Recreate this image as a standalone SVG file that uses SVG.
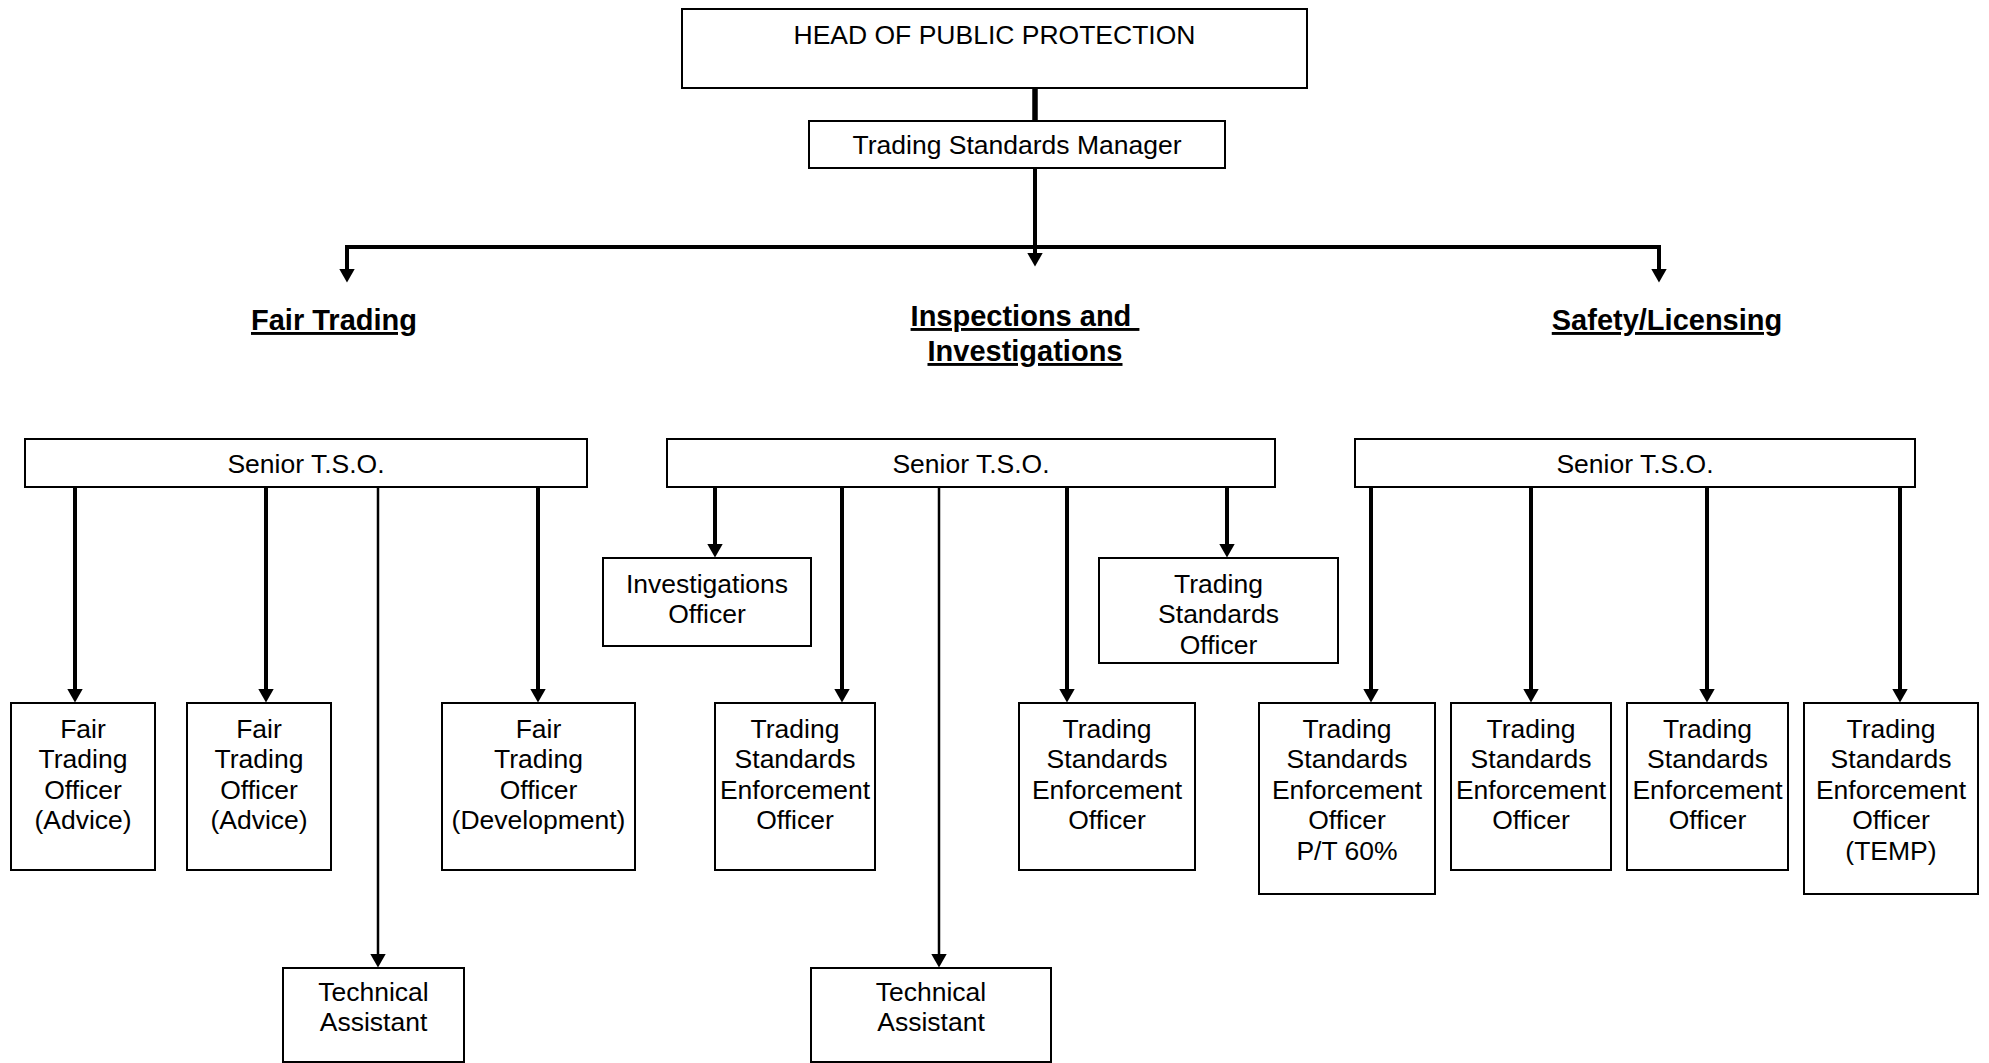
<svg xmlns="http://www.w3.org/2000/svg" width="1989" height="1063" viewBox="0 0 1989 1063">
  <style>
    .box { fill: #ffffff; stroke: #000000; stroke-width: 2; }
    .lbl { font-family: "Liberation Sans", Arial, Helvetica, sans-serif; font-size: 26.5px; fill: #000000; text-anchor: middle; }
    .head { font-family: "Liberation Sans", Arial, Helvetica, sans-serif; font-size: 29px; font-weight: bold; fill: #000000; text-anchor: middle; text-decoration: underline; }
    .thick { fill: none; stroke: #000000; stroke-width: 4; stroke-linejoin: miter; }
    .thin { fill: none; stroke: #000000; stroke-width: 2.5; }
    .arr { marker-end: url(#tip); }
  </style>
  <defs>
    <marker id="tip" markerUnits="userSpaceOnUse" markerWidth="14" markerHeight="16" viewBox="0 0 14 16" refX="0.5" refY="8" orient="auto">
      <path d="M0,0 L14,8 L0,16 Z" fill="#000000"/>
    </marker>
  </defs>
  <rect width="1989" height="1063" fill="#ffffff"/>

  <!-- reporting lines -->
  <g id="connectors">
    <line x1="1035" y1="88" x2="1035" y2="121" stroke="#000000" stroke-width="5.5"/>
    <line class="thick arr" x1="1035" y1="168" x2="1035" y2="253"/>
    <path class="thick arr" d="M1035,247 H347 V269"/>
    <path class="thick arr" d="M1035,247 H1659 V269"/>

    <!-- Fair Trading -->
    <line class="thick arr" x1="75" y1="487" x2="75" y2="689"/>
    <line class="thick arr" x1="266" y1="487" x2="266" y2="689"/>
    <line class="thin arr" x1="378" y1="487" x2="378" y2="954"/>
    <line class="thick arr" x1="538" y1="487" x2="538" y2="689"/>

    <!-- Inspections and Investigations -->
    <line class="thick arr" x1="715" y1="487" x2="715" y2="544"/>
    <line class="thick arr" x1="842" y1="487" x2="842" y2="689"/>
    <line class="thin arr" x1="939" y1="487" x2="939" y2="954"/>
    <line class="thick arr" x1="1067" y1="487" x2="1067" y2="689"/>
    <line class="thick arr" x1="1227" y1="487" x2="1227" y2="544"/>

    <!-- Safety/Licensing -->
    <line class="thick arr" x1="1371" y1="487" x2="1371" y2="689"/>
    <line class="thick arr" x1="1531" y1="487" x2="1531" y2="689"/>
    <line class="thick arr" x1="1707" y1="487" x2="1707" y2="689"/>
    <line class="thick arr" x1="1900" y1="487" x2="1900" y2="689"/>
  </g>

  <g id="head-of-public-protection">
    <rect class="box" x="682" y="9" width="625" height="79"/>
    <text class="lbl" x="994.5" y="44">HEAD OF PUBLIC PROTECTION</text>
  </g>
  <g id="trading-standards-manager">
    <rect class="box" x="809" y="121" width="416" height="47"/>
    <text class="lbl" x="1017" y="154">Trading Standards Manager</text>
  </g>

  <!-- section headings -->
  <g id="heading-fair-trading">
    <text class="head" x="334" y="330">Fair Trading</text>
  </g>
  <g id="heading-inspections">
    <text class="head" x="1025" y="326" xml:space="preserve">Inspections and </text>
    <text class="head" x="1025" y="361">Investigations</text>
  </g>
  <g id="heading-safety-licensing">
    <text class="head" x="1667" y="330">Safety/Licensing</text>
  </g>

  <!-- senior officers -->
  <g id="senior-tso-fair-trading">
    <rect class="box" x="25" y="439" width="562" height="48"/>
    <text class="lbl" x="306" y="473">Senior T.S.O.</text>
  </g>
  <g id="senior-tso-inspections">
    <rect class="box" x="667" y="439" width="608" height="48"/>
    <text class="lbl" x="971" y="473">Senior T.S.O.</text>
  </g>
  <g id="senior-tso-safety">
    <rect class="box" x="1355" y="439" width="560" height="48"/>
    <text class="lbl" x="1635" y="473">Senior T.S.O.</text>
  </g>

  <!-- Fair Trading team -->
  <g id="fto-advice-1">
    <rect class="box" x="11" y="703" width="144" height="167"/>
    <text class="lbl" x="83" y="738">Fair<tspan x="83" dy="30.4">Trading</tspan><tspan x="83" dy="30.4">Officer</tspan><tspan x="83" dy="30.4">(Advice)</tspan></text>
  </g>
  <g id="fto-advice-2">
    <rect class="box" x="187" y="703" width="144" height="167"/>
    <text class="lbl" x="259" y="738">Fair<tspan x="259" dy="30.4">Trading</tspan><tspan x="259" dy="30.4">Officer</tspan><tspan x="259" dy="30.4">(Advice)</tspan></text>
  </g>
  <g id="fto-development">
    <rect class="box" x="442" y="703" width="193" height="167"/>
    <text class="lbl" x="538.5" y="738">Fair<tspan x="538.5" dy="30.4">Trading</tspan><tspan x="538.5" dy="30.4">Officer</tspan><tspan x="538.5" dy="30.4">(Development)</tspan></text>
  </g>
  <g id="technical-assistant-fair-trading">
    <rect class="box" x="283" y="968" width="181" height="94"/>
    <text class="lbl" x="373.5" y="1001">Technical<tspan x="373.5" dy="30.4">Assistant</tspan></text>
  </g>

  <!-- Inspections and Investigations team -->
  <g id="investigations-officer">
    <rect class="box" x="603" y="558" width="208" height="88"/>
    <text class="lbl" x="707" y="593">Investigations<tspan x="707" dy="30.4">Officer</tspan></text>
  </g>
  <g id="tseo-inspections-1">
    <rect class="box" x="715" y="703" width="160" height="167"/>
    <text class="lbl" x="795" y="738">Trading<tspan x="795" dy="30.4">Standards</tspan><tspan x="795" dy="30.4">Enforcement</tspan><tspan x="795" dy="30.4">Officer</tspan></text>
  </g>
  <g id="technical-assistant-inspections">
    <rect class="box" x="811" y="968" width="240" height="94"/>
    <text class="lbl" x="931" y="1001">Technical<tspan x="931" dy="30.4">Assistant</tspan></text>
  </g>
  <g id="tseo-inspections-2">
    <rect class="box" x="1019" y="703" width="176" height="167"/>
    <text class="lbl" x="1107" y="738">Trading<tspan x="1107" dy="30.4">Standards</tspan><tspan x="1107" dy="30.4">Enforcement</tspan><tspan x="1107" dy="30.4">Officer</tspan></text>
  </g>
  <g id="trading-standards-officer">
    <rect class="box" x="1099" y="558" width="239" height="105"/>
    <text class="lbl" x="1218.5" y="593">Trading<tspan x="1218.5" dy="30.4">Standards</tspan><tspan x="1218.5" dy="30.4">Officer</tspan></text>
  </g>

  <!-- Safety/Licensing team -->
  <g id="tseo-part-time">
    <rect class="box" x="1259" y="703" width="176" height="191"/>
    <text class="lbl" x="1347" y="738">Trading<tspan x="1347" dy="30.4">Standards</tspan><tspan x="1347" dy="30.4">Enforcement</tspan><tspan x="1347" dy="30.4">Officer</tspan><tspan x="1347" dy="30.4">P/T 60%</tspan></text>
  </g>
  <g id="tseo-safety-1">
    <rect class="box" x="1451" y="703" width="160" height="167"/>
    <text class="lbl" x="1531" y="738">Trading<tspan x="1531" dy="30.4">Standards</tspan><tspan x="1531" dy="30.4">Enforcement</tspan><tspan x="1531" dy="30.4">Officer</tspan></text>
  </g>
  <g id="tseo-safety-2">
    <rect class="box" x="1627" y="703" width="161" height="167"/>
    <text class="lbl" x="1707.5" y="738">Trading<tspan x="1707.5" dy="30.4">Standards</tspan><tspan x="1707.5" dy="30.4">Enforcement</tspan><tspan x="1707.5" dy="30.4">Officer</tspan></text>
  </g>
  <g id="tseo-temp">
    <rect class="box" x="1804" y="703" width="174" height="191"/>
    <text class="lbl" x="1891" y="738">Trading<tspan x="1891" dy="30.4">Standards</tspan><tspan x="1891" dy="30.4">Enforcement</tspan><tspan x="1891" dy="30.4">Officer</tspan><tspan x="1891" dy="30.4">(TEMP)</tspan></text>
  </g>
</svg>
